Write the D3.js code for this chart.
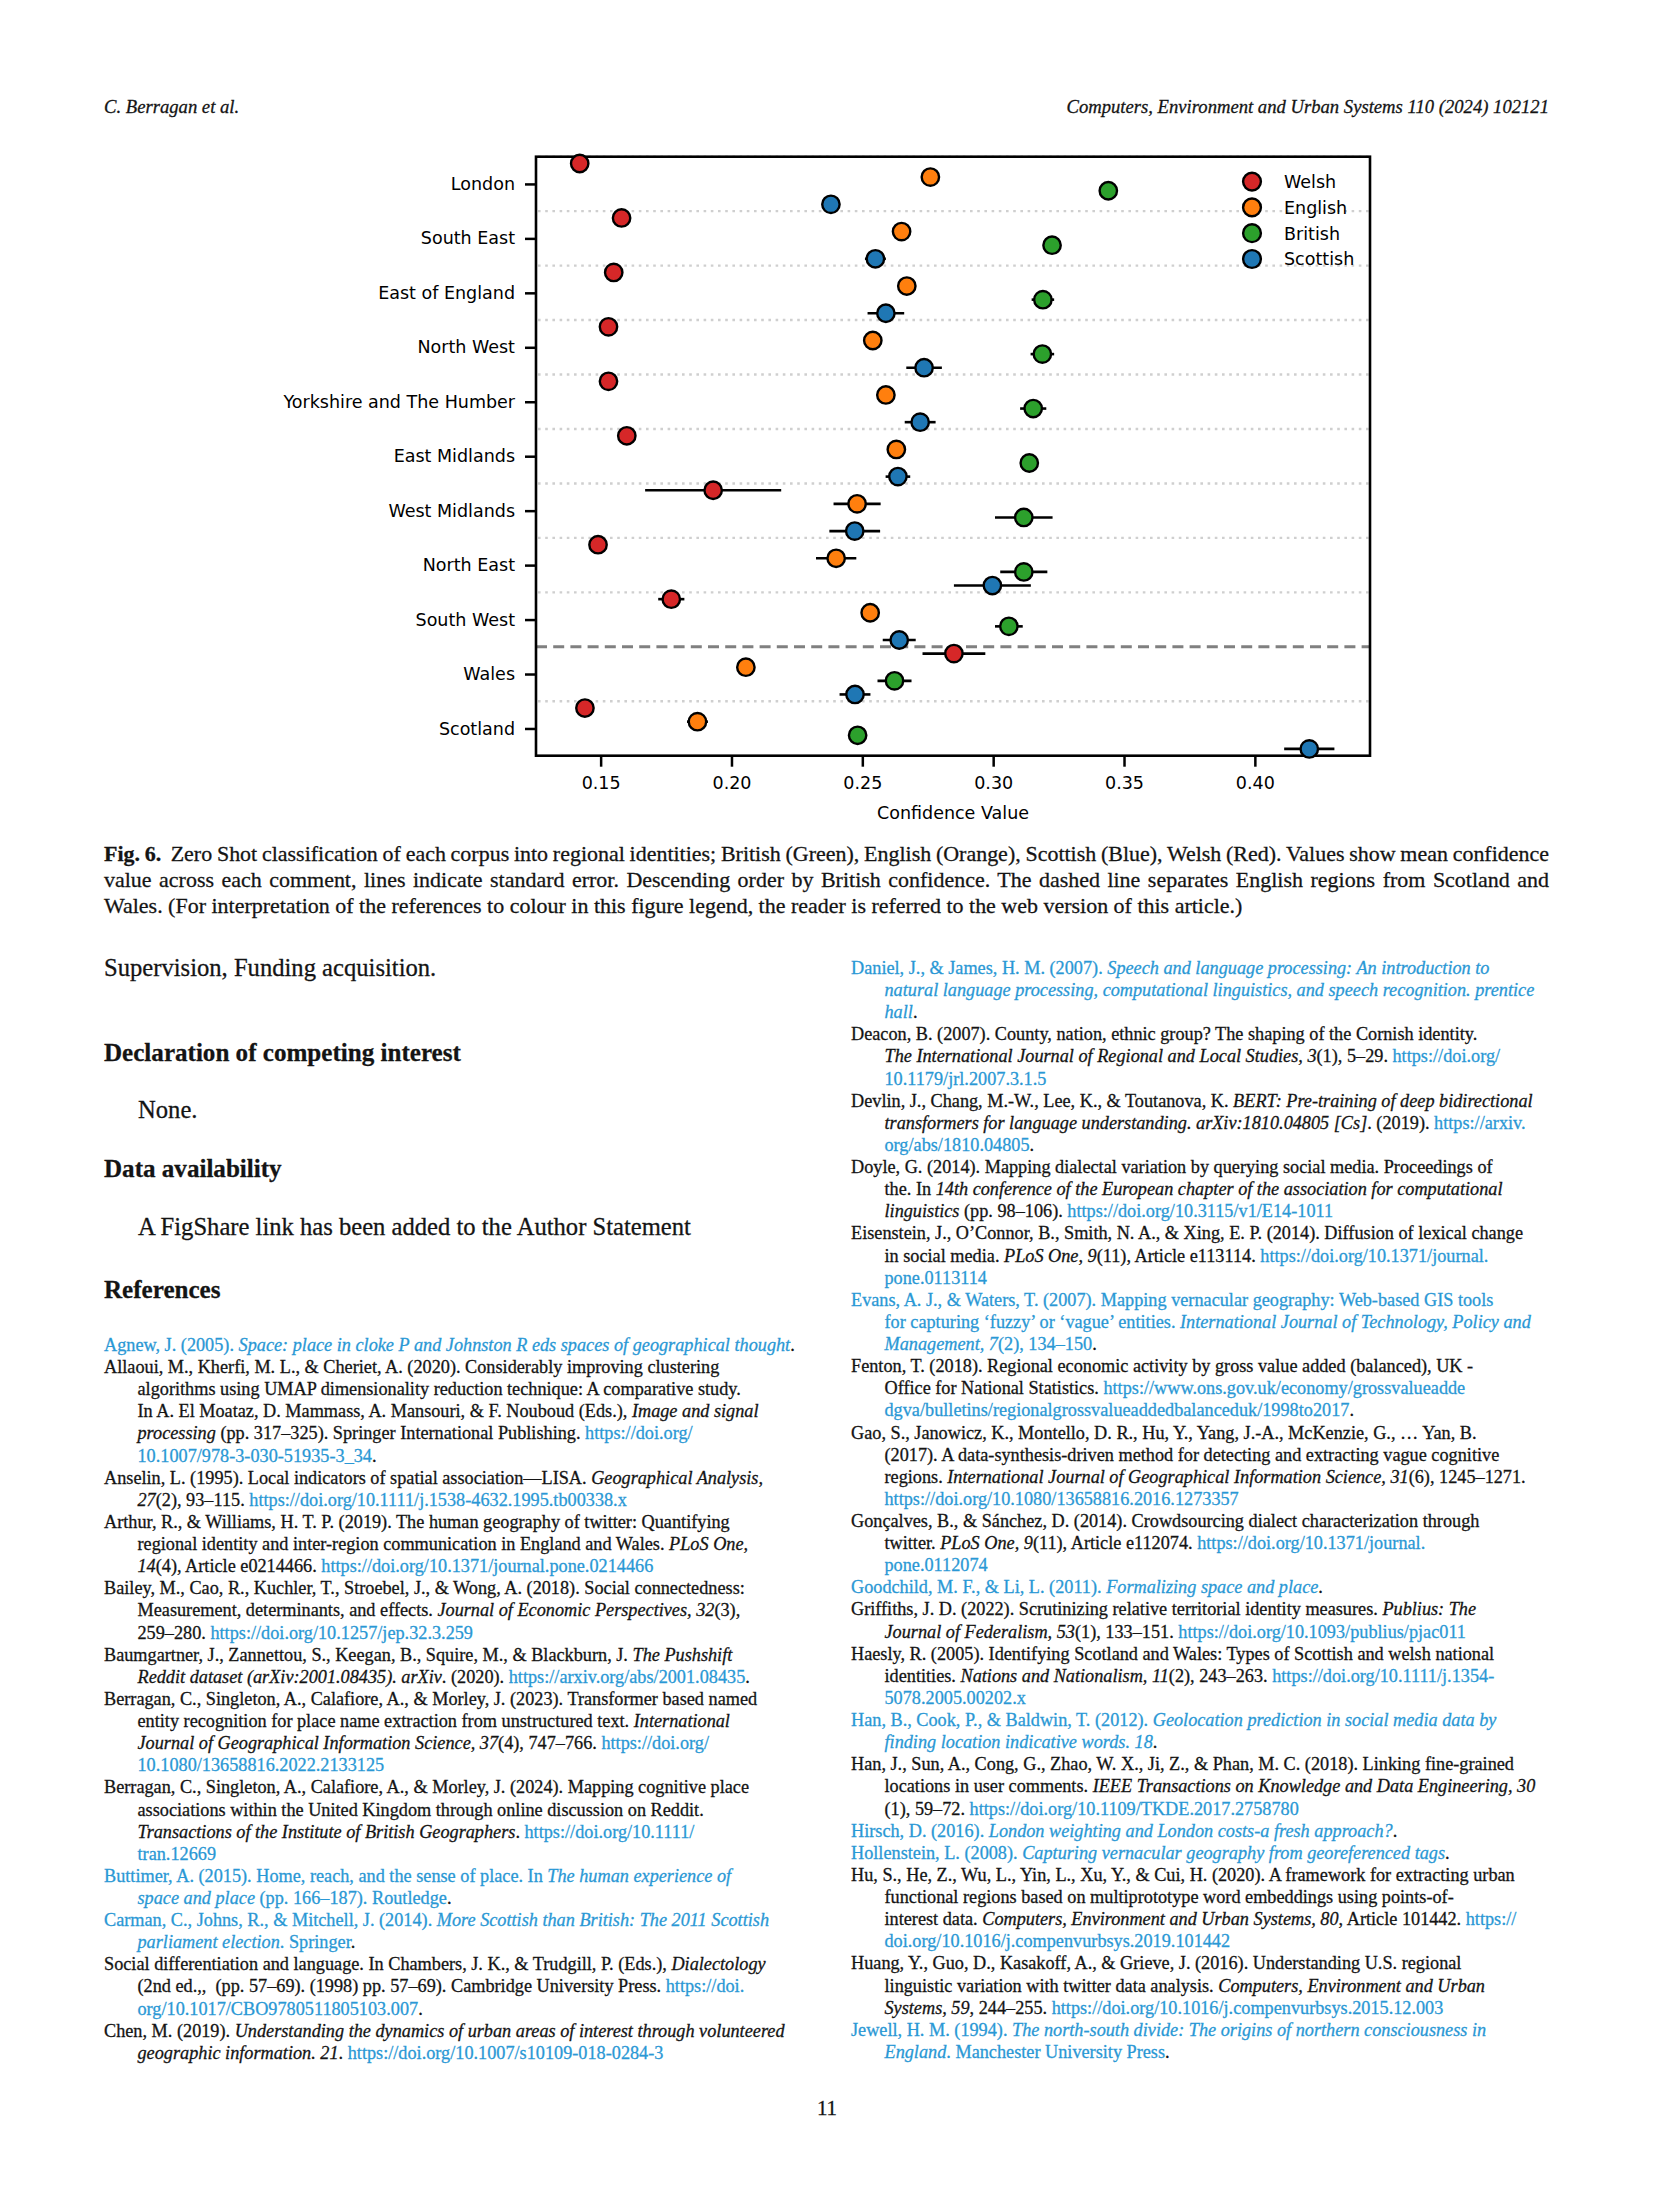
<!DOCTYPE html>
<html>
<head>
<meta charset="utf-8">
<script src="https://cdn.jsdelivr.net/npm/d3@7"></script>
<style>
  html, body { margin: 0; padding: 0; background: #fff; }
  svg text { white-space: pre; }
</style>
</head>
<body>
<script>
// ---------------- DATA ----------------
const categories = ["London", "South East", "East of England", "North West", "Yorkshire and The Humber",
  "East Midlands", "West Midlands", "North East", "South West", "Wales", "Scotland"];
const seriesNames = ["Welsh", "English", "British", "Scottish"];
const seriesColors = ["#d62728", "#ff7f0e", "#2ca02c", "#1f77b4"];
const welsh      = [0.142, 0.158, 0.155, 0.153, 0.153, 0.160, 0.193, 0.149, 0.177, 0.285, 0.144];
const welshErr   = [0.001, 0.001, 0.001, 0.001, 0.001, 0.001, 0.026, 0.001, 0.005, 0.012, 0.001];
const english    = [0.276, 0.265, 0.267, 0.254, 0.259, 0.263, 0.248, 0.240, 0.253, 0.2055, 0.187];
const englishErr = [0.001, 0.001, 0.001, 0.001, 0.001, 0.001, 0.009, 0.0077, 0.001, 0.002, 0.004];
const british    = [0.344, 0.3225, 0.319, 0.3188, 0.3153, 0.3138, 0.3117, 0.3117, 0.306, 0.2623, 0.2482];
const britishErr = [0.001, 0.001, 0.0043, 0.0045, 0.005, 0.002, 0.011, 0.009, 0.0053, 0.0065, 0.002];
const scottish   = [0.238, 0.255, 0.259, 0.2736, 0.2721, 0.2636, 0.2471, 0.2997, 0.2641, 0.2472, 0.4208];
const scottishErr= [0.001, 0.004, 0.007, 0.0068, 0.0059, 0.0047, 0.0097, 0.0147, 0.0063, 0.0059, 0.0096];
const xTicks = [0.15, 0.20, 0.25, 0.30, 0.35, 0.40];
const xLabel = "Confidence Value";
const dashedAfterIndex = 8; // separator between South West and Wales

// ---------------- PAGE TEXT ----------------
// markup: * toggles italic, ^ toggles link colour, # toggles bold
const headerLeft = "C. Berragan et al.";
const headerRight = "Computers, Environment and Urban Systems 110 (2024) 102121";
const captionLines = [
  "#Fig. 6.#  Zero Shot classification of each corpus into regional identities; British (Green), English (Orange), Scottish (Blue), Welsh (Red). Values show mean confidence",
  "value across each comment, lines indicate standard error. Descending order by British confidence. The dashed line separates English regions from Scotland and",
  "Wales. (For interpretation of the references to colour in this figure legend, the reader is referred to the web version of this article.)"
];
const bodyBlocks = [
  {t: "Supervision, Funding acquisition.", kind: "body", indent: false},
  {t: "Declaration of competing interest", kind: "head"},
  {t: "None.", kind: "body", indent: true},
  {t: "Data availability", kind: "head"},
  {t: "A FigShare link has been added to the Author Statement", kind: "body", indent: true},
  {t: "References", kind: "head"}
];
const refsLeft = [
  ["^Agnew, J. (2005). *Space: place in cloke P and Johnston R eds spaces of geographical thought*^."],
  ["Allaoui, M., Kherfi, M. L., & Cheriet, A. (2020). Considerably improving clustering",
   "algorithms using UMAP dimensionality reduction technique: A comparative study.",
   "In A. El Moataz, D. Mammass, A. Mansouri, & F. Nouboud (Eds.), *Image and signal*",
   "*processing* (pp. 317–325). Springer International Publishing. ^https://doi.org/^",
   "^10.1007/978-3-030-51935-3_34^."],
  ["Anselin, L. (1995). Local indicators of spatial association—LISA. *Geographical Analysis,*",
   "*27*(2), 93–115. ^https://doi.org/10.1111/j.1538-4632.1995.tb00338.x^"],
  ["Arthur, R., & Williams, H. T. P. (2019). The human geography of twitter: Quantifying",
   "regional identity and inter-region communication in England and Wales. *PLoS One,*",
   "*14*(4), Article e0214466. ^https://doi.org/10.1371/journal.pone.0214466^"],
  ["Bailey, M., Cao, R., Kuchler, T., Stroebel, J., & Wong, A. (2018). Social connectedness:",
   "Measurement, determinants, and effects. *Journal of Economic Perspectives, 32*(3),",
   "259–280. ^https://doi.org/10.1257/jep.32.3.259^"],
  ["Baumgartner, J., Zannettou, S., Keegan, B., Squire, M., & Blackburn, J. *The Pushshift*",
   "*Reddit dataset (arXiv:2001.08435). arXiv*. (2020). ^https://arxiv.org/abs/2001.08435^."],
  ["Berragan, C., Singleton, A., Calafiore, A., & Morley, J. (2023). Transformer based named",
   "entity recognition for place name extraction from unstructured text. *International*",
   "*Journal of Geographical Information Science, 37*(4), 747–766. ^https://doi.org/^",
   "^10.1080/13658816.2022.2133125^"],
  ["Berragan, C., Singleton, A., Calafiore, A., & Morley, J. (2024). Mapping cognitive place",
   "associations within the United Kingdom through online discussion on Reddit.",
   "*Transactions of the Institute of British Geographers*. ^https://doi.org/10.1111/^",
   "^tran.12669^"],
  ["^Buttimer, A. (2015). Home, reach, and the sense of place. In *The human experience of*^",
   "^*space and place* (pp. 166–187). Routledge^."],
  ["^Carman, C., Johns, R., & Mitchell, J. (2014). *More Scottish than British: The 2011 Scottish*^",
   "^*parliament election*. Springer^."],
  ["Social differentiation and language. In Chambers, J. K., & Trudgill, P. (Eds.), *Dialectology*",
   "(2nd ed.,,  (pp. 57–69). (1998) pp. 57–69). Cambridge University Press. ^https://doi.^",
   "^org/10.1017/CBO9780511805103.007^."],
  ["Chen, M. (2019). *Understanding the dynamics of urban areas of interest through volunteered*",
   "*geographic information. 21*. ^https://doi.org/10.1007/s10109-018-0284-3^"]
];
const refsRight = [
  ["^Daniel, J., & James, H. M. (2007). *Speech and language processing: An introduction to*^",
   "^*natural language processing, computational linguistics, and speech recognition. prentice*^",
   "^*hall*^."],
  ["Deacon, B. (2007). County, nation, ethnic group? The shaping of the Cornish identity.",
   "*The International Journal of Regional and Local Studies, 3*(1), 5–29. ^https://doi.org/^",
   "^10.1179/jrl.2007.3.1.5^"],
  ["Devlin, J., Chang, M.-W., Lee, K., & Toutanova, K. *BERT: Pre-training of deep bidirectional*",
   "*transformers for language understanding. arXiv:1810.04805 [Cs]*. (2019). ^https://arxiv.^",
   "^org/abs/1810.04805^."],
  ["Doyle, G. (2014). Mapping dialectal variation by querying social media. Proceedings of",
   "the. In *14th conference of the European chapter of the association for computational*",
   "*linguistics* (pp. 98–106). ^https://doi.org/10.3115/v1/E14-1011^"],
  ["Eisenstein, J., O’Connor, B., Smith, N. A., & Xing, E. P. (2014). Diffusion of lexical change",
   "in social media. *PLoS One, 9*(11), Article e113114. ^https://doi.org/10.1371/journal.^",
   "^pone.0113114^"],
  ["^Evans, A. J., & Waters, T. (2007). Mapping vernacular geography: Web-based GIS tools^",
   "^for capturing ‘fuzzy’ or ‘vague’ entities. *International Journal of Technology, Policy and*^",
   "^*Management, 7*(2), 134–150^."],
  ["Fenton, T. (2018). Regional economic activity by gross value added (balanced), UK -",
   "Office for National Statistics. ^https://www.ons.gov.uk/economy/grossvalueadde^",
   "^dgva/bulletins/regionalgrossvalueaddedbalanceduk/1998to2017^."],
  ["Gao, S., Janowicz, K., Montello, D. R., Hu, Y., Yang, J.-A., McKenzie, G., … Yan, B.",
   "(2017). A data-synthesis-driven method for detecting and extracting vague cognitive",
   "regions. *International Journal of Geographical Information Science, 31*(6), 1245–1271.",
   "^https://doi.org/10.1080/13658816.2016.1273357^"],
  ["Gonçalves, B., & Sánchez, D. (2014). Crowdsourcing dialect characterization through",
   "twitter. *PLoS One, 9*(11), Article e112074. ^https://doi.org/10.1371/journal.^",
   "^pone.0112074^"],
  ["^Goodchild, M. F., & Li, L. (2011). *Formalizing space and place*^."],
  ["Griffiths, J. D. (2022). Scrutinizing relative territorial identity measures. *Publius: The*",
   "*Journal of Federalism, 53*(1), 133–151. ^https://doi.org/10.1093/publius/pjac011^"],
  ["Haesly, R. (2005). Identifying Scotland and Wales: Types of Scottish and welsh national",
   "identities. *Nations and Nationalism, 11*(2), 243–263. ^https://doi.org/10.1111/j.1354-^",
   "^5078.2005.00202.x^"],
  ["^Han, B., Cook, P., & Baldwin, T. (2012). *Geolocation prediction in social media data by*^",
   "^*finding location indicative words. 18*^."],
  ["Han, J., Sun, A., Cong, G., Zhao, W. X., Ji, Z., & Phan, M. C. (2018). Linking fine-grained",
   "locations in user comments. *IEEE Transactions on Knowledge and Data Engineering, 30*",
   "(1), 59–72. ^https://doi.org/10.1109/TKDE.2017.2758780^"],
  ["^Hirsch, D. (2016). *London weighting and London costs-a fresh approach?*^."],
  ["^Hollenstein, L. (2008). *Capturing vernacular geography from georeferenced tags*^."],
  ["Hu, S., He, Z., Wu, L., Yin, L., Xu, Y., & Cui, H. (2020). A framework for extracting urban",
   "functional regions based on multiprototype word embeddings using points-of-",
   "interest data. *Computers, Environment and Urban Systems, 80*, Article 101442. ^https://^",
   "^doi.org/10.1016/j.compenvurbsys.2019.101442^"],
  ["Huang, Y., Guo, D., Kasakoff, A., & Grieve, J. (2016). Understanding U.S. regional",
   "linguistic variation with twitter data analysis. *Computers, Environment and Urban*",
   "*Systems, 59*, 244–255. ^https://doi.org/10.1016/j.compenvurbsys.2015.12.003^"],
  ["^Jewell, H. M. (1994). *The north-south divide: The origins of northern consciousness in*^",
   "^*England*. Manchester University Press^."]
];
const pageNumber = "11";

// ---------------- RENDER ----------------
const W = 1654, H = 2205;
const SERIF = "'Liberation Serif', 'Times New Roman', serif";
const SANS = "'DejaVu Sans', sans-serif";
const INK = "#141414";
const LINK = "#2a98d5";
const THICK = 0.28; // slight stroke to mimic the heavier original face

const svg = d3.select("body").append("svg").attr("width", W).attr("height", H)
  .attr("viewBox", `0 0 ${W} ${H}`);
svg.append("rect").attr("width", W).attr("height", H).attr("fill", "#fff");

function parseMarkup(s) {
  const segs = []; let it = false, bl = false, bo = false, buf = "";
  for (const ch of s) {
    if (ch === "*" || ch === "^" || ch === "#") {
      if (buf) segs.push({t: buf, i: it, b: bl, B: bo});
      buf = "";
      if (ch === "*") it = !it; else if (ch === "^") bl = !bl; else bo = !bo;
    } else buf += ch;
  }
  if (buf) segs.push({t: buf, i: it, b: bl, B: bo});
  return segs;
}
function drawMarkup(g, s, x, y, size, o = {}) {
  const t = g.append("text").attr("x", x).attr("y", y)
    .attr("font-family", o.family || SERIF).attr("font-size", size)
    .attr("font-weight", o.weight || "normal").attr("font-style", o.style || "normal")
    .attr("fill", INK).attr("xml:space", "preserve");
  if (o.anchor) t.attr("text-anchor", o.anchor);
  const sw = o.thick == null ? THICK : o.thick;
  parseMarkup(s).forEach(seg => {
    const col = seg.b ? LINK : INK;
    const ts = t.append("tspan").text(seg.t).attr("fill", col);
    if (sw > 0) ts.attr("stroke", col).attr("stroke-width", sw);
    if (seg.i) ts.attr("font-style", "italic");
    if (seg.B) ts.attr("font-weight", "bold");
  });
  return t;
}
function fitSize(s, target, o = {}) {
  const t = drawMarkup(svg, s, 0, -500, 100, o);
  const w = t.node().getComputedTextLength();
  t.remove();
  return 100 * target / w;
}
function justify(t, width) {
  const nat = t.node().getComputedTextLength();
  const n = (t.text().match(/ /g) || []).length;
  if (n > 0) t.style("word-spacing", ((width - nat) / n) + "px");
}
function clampWidth(t, maxW) {
  const w = t.node().getComputedTextLength();
  if (w > maxW) t.attr("textLength", maxW).attr("lengthAdjust", "spacingAndGlyphs");
}

// header
const headerSize = fitSize(headerRight, 483, {style: "italic"});
drawMarkup(svg, headerLeft, 104, 113, headerSize, {style: "italic"});
drawMarkup(svg, headerRight, 1549, 113, headerSize, {style: "italic", anchor: "end"});

// ---------------- CHART ----------------
const x = d3.scaleLinear().domain([0.1253, 0.444]).range([536, 1370]);
const y = d3.scaleLinear().domain([-0.5, categories.length - 0.5]).range([156.7, 755.7]);
const offsets = [-0.375, -0.125, 0.125, 0.375];
const values = [welsh, english, british, scottish];
const errors = [welshErr, englishErr, britishErr, scottishErr];
const chart = svg.append("g");

// dotted separators
const sepIdx = d3.range(-1, categories.length - 1).filter(k => k !== dashedAfterIndex);
chart.selectAll("line.grid").data(sepIdx).join("line").attr("class", "grid")
  .attr("x1", x.range()[0] + 2).attr("x2", x.range()[1])
  .attr("y1", k => y(k + 0.5)).attr("y2", k => y(k + 0.5))
  .attr("stroke", "#cfcfcf").attr("stroke-width", 2.4).attr("stroke-dasharray", "2.6,4.6");
// dashed separator
chart.append("line")
  .attr("x1", x.range()[0]).attr("x2", x.range()[1])
  .attr("y1", y(dashedAfterIndex + 0.5)).attr("y2", y(dashedAfterIndex + 0.5))
  .attr("stroke", "#808080").attr("stroke-width", 3).attr("stroke-dasharray", "11,6.2");

// axes
const xAxis = d3.axisBottom(x).tickValues(xTicks).tickFormat(d3.format(".2f"))
  .tickSize(11).tickPadding(10).tickSizeOuter(0);
const yAxis = d3.axisLeft(y).tickValues(d3.range(categories.length)).tickFormat(i => categories[i])
  .tickSize(11).tickPadding(10).tickSizeOuter(0);
const gx = chart.append("g").attr("transform", `translate(0,${y.range()[1]})`).call(xAxis);
const gy = chart.append("g").attr("transform", `translate(${x.range()[0]},0)`).call(yAxis);
[gx, gy].forEach(g => {
  g.select(".domain").remove();
  g.selectAll(".tick line").attr("stroke", "#000").attr("stroke-width", 2.5);
  g.selectAll(".tick text").attr("font-family", SANS).attr("font-size", 17.5).attr("fill", "#000");
});
gx.selectAll(".tick text").attr("dy", "0.72em");

// frame
chart.append("rect")
  .attr("x", x.range()[0]).attr("y", y.range()[0])
  .attr("width", x.range()[1] - x.range()[0]).attr("height", y.range()[1] - y.range()[0])
  .attr("fill", "none").attr("stroke", "#000").attr("stroke-width", 2.6);

// x label
chart.append("text").attr("x", (x.range()[0] + x.range()[1]) / 2).attr("y", 819)
  .attr("text-anchor", "middle").attr("font-family", SANS).attr("font-size", 17.5)
  .attr("fill", "#000").text(xLabel);

// error bars + points
seriesNames.forEach((name, s) => {
  const rows = categories.map((c, i) => ({i, v: values[s][i], e: errors[s][i]}));
  const g = chart.append("g");
  g.selectAll("line").data(rows).join("line")
    .attr("x1", d => x(d.v - d.e)).attr("x2", d => x(d.v + d.e))
    .attr("y1", d => y(d.i + offsets[s])).attr("y2", d => y(d.i + offsets[s]))
    .attr("stroke", "#000").attr("stroke-width", 2.6);
  g.selectAll("circle").data(rows).join("circle")
    .attr("cx", d => x(d.v)).attr("cy", d => y(d.i + offsets[s])).attr("r", 8.7)
    .attr("fill", seriesColors[s]).attr("stroke", "#000").attr("stroke-width", 2.4);
});

// legend
const leg = chart.append("g").attr("transform", "translate(1252,181.6)");
const li = leg.selectAll("g").data(seriesNames).join("g")
  .attr("transform", (d, i) => `translate(0,${i * 25.8})`);
li.append("circle").attr("r", 8.9).attr("fill", (d, i) => seriesColors[i])
  .attr("stroke", "#000").attr("stroke-width", 2.4);
li.append("text").attr("x", 32).attr("dy", "0.36em").attr("font-family", SANS)
  .attr("font-size", 17.5).attr("fill", "#000").text(d => d);

// ---------------- CAPTION ----------------
const capSize = fitSize(captionLines[2], 1139);
const capBase = [861, 887, 913];
captionLines.forEach((ln, i) => {
  const t = drawMarkup(svg, ln, 104, capBase[i], capSize);
  if (i < captionLines.length - 1) justify(t, 1445);
});

// ---------------- BODY ----------------
const bodySize = fitSize(bodyBlocks[4].t, 553);
const headSize = fitSize(bodyBlocks[1].t, 357, {weight: "bold"});
const bodyBase = [976, 1061, 1118, 1177, 1235, 1298];
bodyBlocks.forEach((b, i) => {
  if (b.kind === "head") drawMarkup(svg, b.t, 104, bodyBase[i], headSize, {weight: "bold"});
  else drawMarkup(svg, b.t, b.indent ? 138 : 104, bodyBase[i], bodySize);
});

// ---------------- REFERENCES ----------------
const refSize = fitSize(refsLeft[0][0], 691);
const lineH = 22.12;
function drawRefs(refs, x0, x1, y0) {
  let k = 0;
  refs.forEach(entry => {
    entry.forEach((ln, j) => {
      const xx = j === 0 ? x0 : x0 + 33.5;
      const t = drawMarkup(svg, ln, xx, y0 + k * lineH, refSize);
      clampWidth(t, x1 - xx);
      k++;
    });
  });
}
drawRefs(refsLeft, 104, 797, 1351);
drawRefs(refsRight, 851, 1550, 974);

// page number
drawMarkup(svg, pageNumber, 827, 2115, bodySize * 0.85, {anchor: "middle"});
</script>
</body>
</html>
